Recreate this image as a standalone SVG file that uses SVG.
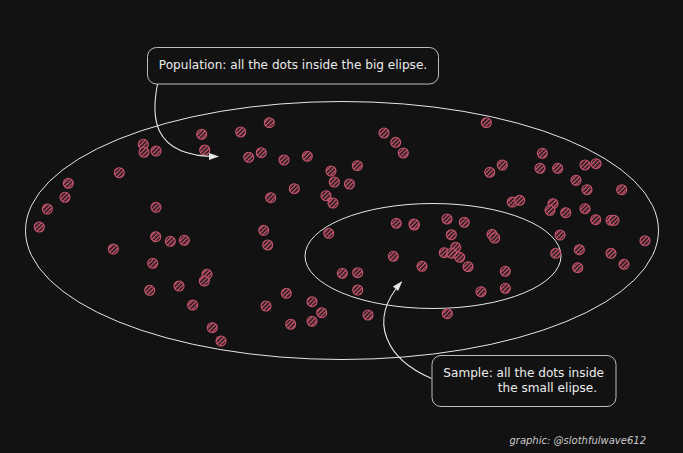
<svg xmlns="http://www.w3.org/2000/svg" width="683" height="453" viewBox="0 0 683 453">
<style>
.bg{fill:#121212}
.ell{fill:none;stroke:#e6e6e6;stroke-width:1}
.box{fill:#121212;stroke:#bdbdbd;stroke-width:1}
.lbl{font-family:"DejaVu Sans","Noto Sans",sans-serif;font-size:12.1px;fill:#ececec}
.credit{font-family:"DejaVu Sans","Noto Sans",sans-serif;font-size:10px;font-style:italic;fill:#c8c8c8}
.dot{fill:url(#hatch);stroke:#c9566f;stroke-width:1.1}
.conn{fill:none;stroke:#e6e6e6;stroke-width:1.1}
</style>
<defs>
<pattern id="hatch" patternUnits="userSpaceOnUse" width="3" height="3" patternTransform="rotate(45)">
<rect width="3" height="3" fill="#121212"/>
<line x1="0.75" y1="0" x2="0.75" y2="3" stroke="#c9566f" stroke-width="1.5"/>
</pattern>
<marker id="ah" viewBox="0 0 10 10" refX="9" refY="5" markerWidth="10" markerHeight="10" markerUnits="userSpaceOnUse" orient="auto">
<path d="M0,1.5 L10,5 L0,8.5 Z" fill="#e6e6e6"/>
</marker>
</defs>
<rect class="bg" width="683" height="453"/>
<g id="population-ellipse"><ellipse class="ell" cx="342" cy="230.5" rx="316.5" ry="129"/></g>
<g id="sample-ellipse"><ellipse class="ell" cx="433" cy="256" rx="128" ry="52.5"/></g>
<g id="dots">
<circle class="dot" cx="143.3" cy="144.3" r="5"/>
<circle class="dot" cx="144" cy="152.3" r="5"/>
<circle class="dot" cx="156" cy="151" r="5"/>
<circle class="dot" cx="201.7" cy="134.3" r="5"/>
<circle class="dot" cx="204.7" cy="150" r="5"/>
<circle class="dot" cx="240.7" cy="132" r="5"/>
<circle class="dot" cx="269.3" cy="122.7" r="5"/>
<circle class="dot" cx="248.7" cy="157.3" r="5"/>
<circle class="dot" cx="261.3" cy="152.7" r="5"/>
<circle class="dot" cx="284" cy="160" r="5"/>
<circle class="dot" cx="307.3" cy="156.3" r="5"/>
<circle class="dot" cx="331" cy="171" r="5"/>
<circle class="dot" cx="334.3" cy="182" r="5"/>
<circle class="dot" cx="349.5" cy="184" r="5"/>
<circle class="dot" cx="326" cy="195.7" r="5"/>
<circle class="dot" cx="333" cy="203" r="5"/>
<circle class="dot" cx="294.3" cy="188.7" r="5"/>
<circle class="dot" cx="270.7" cy="197.7" r="5"/>
<circle class="dot" cx="119.3" cy="172.7" r="5"/>
<circle class="dot" cx="68.3" cy="183.3" r="5"/>
<circle class="dot" cx="65" cy="197.3" r="5"/>
<circle class="dot" cx="47.3" cy="209" r="5"/>
<circle class="dot" cx="39.3" cy="227" r="5"/>
<circle class="dot" cx="156" cy="207.3" r="5"/>
<circle class="dot" cx="155.7" cy="236.7" r="5"/>
<circle class="dot" cx="170.3" cy="241.3" r="5"/>
<circle class="dot" cx="184.3" cy="240.3" r="5"/>
<circle class="dot" cx="113.3" cy="249" r="5"/>
<circle class="dot" cx="152.7" cy="263.3" r="5"/>
<circle class="dot" cx="207" cy="274.3" r="5"/>
<circle class="dot" cx="204.3" cy="281" r="5"/>
<circle class="dot" cx="149.7" cy="290.3" r="5"/>
<circle class="dot" cx="179" cy="286" r="5"/>
<circle class="dot" cx="192.7" cy="305" r="5"/>
<circle class="dot" cx="212.3" cy="327.7" r="5"/>
<circle class="dot" cx="221" cy="341" r="5"/>
<circle class="dot" cx="263.7" cy="230.3" r="5"/>
<circle class="dot" cx="267.7" cy="245" r="5"/>
<circle class="dot" cx="328.7" cy="233.3" r="5"/>
<circle class="dot" cx="342.3" cy="273.3" r="5"/>
<circle class="dot" cx="286.3" cy="293.3" r="5"/>
<circle class="dot" cx="266" cy="306" r="5"/>
<circle class="dot" cx="312" cy="301.7" r="5"/>
<circle class="dot" cx="321.7" cy="312.7" r="5"/>
<circle class="dot" cx="312" cy="321.3" r="5"/>
<circle class="dot" cx="290.7" cy="324.3" r="5"/>
<circle class="dot" cx="486.3" cy="122.7" r="5"/>
<circle class="dot" cx="384" cy="133" r="5"/>
<circle class="dot" cx="395.7" cy="142.3" r="5"/>
<circle class="dot" cx="403.3" cy="153" r="5"/>
<circle class="dot" cx="357.3" cy="165.7" r="5"/>
<circle class="dot" cx="542.3" cy="153.3" r="5"/>
<circle class="dot" cx="502.3" cy="165" r="5"/>
<circle class="dot" cx="489.7" cy="172.3" r="5"/>
<circle class="dot" cx="540" cy="168.3" r="5"/>
<circle class="dot" cx="557.7" cy="168.3" r="5"/>
<circle class="dot" cx="585" cy="165" r="5"/>
<circle class="dot" cx="596" cy="163.7" r="5"/>
<circle class="dot" cx="576" cy="180.3" r="5"/>
<circle class="dot" cx="587" cy="189.7" r="5"/>
<circle class="dot" cx="621.7" cy="189.7" r="5"/>
<circle class="dot" cx="512.3" cy="202" r="5"/>
<circle class="dot" cx="519.7" cy="200.3" r="5"/>
<circle class="dot" cx="553" cy="203.7" r="5"/>
<circle class="dot" cx="550" cy="210.3" r="5"/>
<circle class="dot" cx="565.7" cy="212.7" r="5"/>
<circle class="dot" cx="585" cy="208.7" r="5"/>
<circle class="dot" cx="595.7" cy="219.7" r="5"/>
<circle class="dot" cx="611" cy="220.3" r="5"/>
<circle class="dot" cx="614" cy="220.3" r="5"/>
<circle class="dot" cx="645" cy="240.7" r="5"/>
<circle class="dot" cx="560" cy="235" r="5"/>
<circle class="dot" cx="579.3" cy="249.7" r="5"/>
<circle class="dot" cx="555.7" cy="253.3" r="5"/>
<circle class="dot" cx="577.7" cy="267.7" r="5"/>
<circle class="dot" cx="611" cy="253.3" r="5"/>
<circle class="dot" cx="624" cy="264.3" r="5"/>
<circle class="dot" cx="396.3" cy="223.3" r="5"/>
<circle class="dot" cx="414.3" cy="225" r="5"/>
<circle class="dot" cx="414" cy="224" r="5"/>
<circle class="dot" cx="447" cy="219" r="5"/>
<circle class="dot" cx="464.3" cy="222.3" r="5"/>
<circle class="dot" cx="451.3" cy="234.7" r="5"/>
<circle class="dot" cx="492" cy="234.3" r="5"/>
<circle class="dot" cx="494.7" cy="238" r="5"/>
<circle class="dot" cx="455.7" cy="247.3" r="5"/>
<circle class="dot" cx="444.3" cy="252.7" r="5"/>
<circle class="dot" cx="451.7" cy="253.3" r="5"/>
<circle class="dot" cx="459.7" cy="257.3" r="5"/>
<circle class="dot" cx="468" cy="266.7" r="5"/>
<circle class="dot" cx="393.3" cy="256.3" r="5"/>
<circle class="dot" cx="422" cy="266.3" r="5"/>
<circle class="dot" cx="505.3" cy="271.3" r="5"/>
<circle class="dot" cx="505.3" cy="288.3" r="5"/>
<circle class="dot" cx="481" cy="291.7" r="5"/>
<circle class="dot" cx="357.7" cy="272.7" r="5"/>
<circle class="dot" cx="357.7" cy="290" r="5"/>
<circle class="dot" cx="368" cy="315" r="5"/>
<circle class="dot" cx="447.3" cy="313.7" r="5"/>
</g>
<g id="connectors">
<path class="conn" d="M157.5,84 C152,112 148,157 218,156.5" marker-end="url(#ah)"/>
<path class="conn" d="M431.5,378.5 C388,360 366,322 401.5,282" marker-end="url(#ah)"/>
</g>
<g id="population-label">
<rect class="box" x="147.5" y="47.5" width="291" height="36.5" rx="9"/>
<text class="lbl" x="293" y="69" text-anchor="middle">Population: all the dots inside the big elipse.</text>
</g>
<g id="sample-label">
<rect class="box" x="432" y="355.5" width="184" height="51" rx="9"/>
<text class="lbl" x="604" y="376.6" text-anchor="end">Sample: all the dots inside</text>
<text class="lbl" x="597" y="392.3" text-anchor="end">the small elipse.</text>
</g>
<g id="credit">
<text class="credit" x="646" y="444.3" text-anchor="end">graphic: @slothfulwave612</text>
</g>
</svg>
